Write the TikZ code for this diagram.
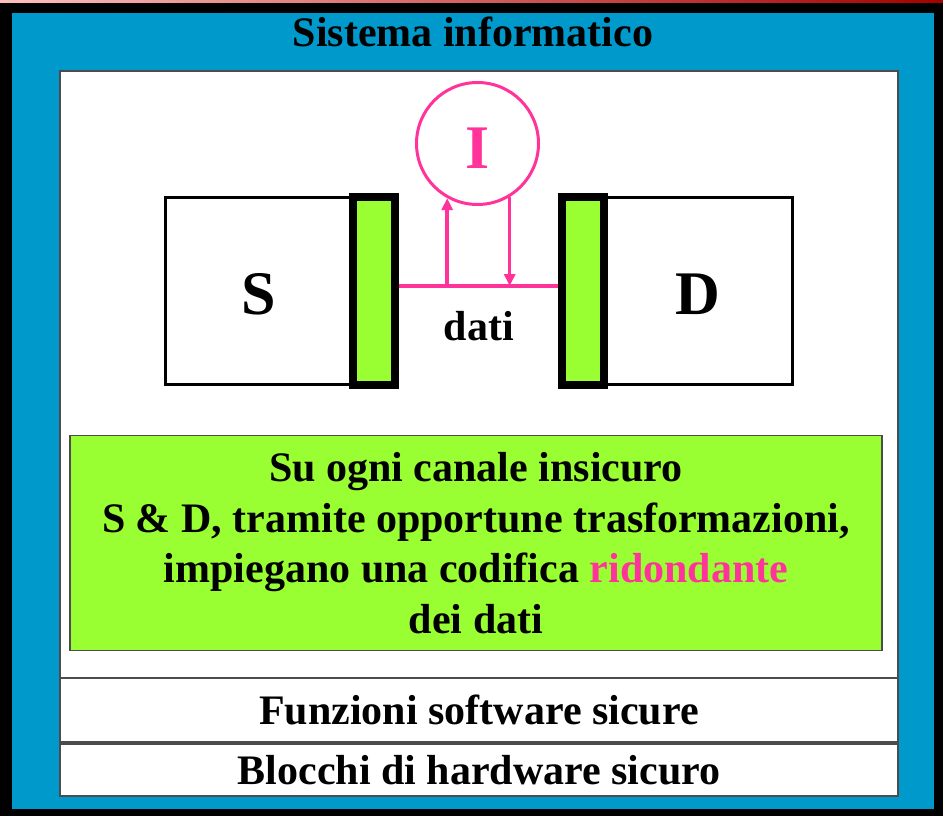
\documentclass[tikz,border=0pt]{standalone}
\usepackage{fontspec}
\setmainfont{Liberation Serif}
\usetikzlibrary{arrows.meta,positioning}
\definecolor{sysblue}{HTML}{0099CC}
\definecolor{chgreen}{HTML}{99FF33}
\definecolor{intpink}{HTML}{FF3399}

\begin{document}
\begin{tikzpicture}[x=1pt, y=-1pt, font=\bfseries\fontsize{42}{50.7}\selectfont,
     every node/.style={inner sep=0pt},
     big/.style={font=\bfseries\fontsize{62}{62}\selectfont, text height=49pt},
     party/.style={draw, big, line width=3pt, minimum width=188pt, minimum height=187pt},
     guard/.style={draw, line width=8pt, fill=chgreen, minimum width=41.5pt, minimum height=188pt},
     layer/.style={draw=black!70, line width=2pt, fill=white, minimum width=838pt},
     pinkline/.style={draw=intpink, line width=3.5pt},
     pinkarrow/.style={pinkline, -{Triangle[length=12pt,width=11pt]}},]

   \useasboundingbox (0,0) rectangle (943,816);
   % frame of the system
   \fill[black] (0,0) rectangle (943,816);
   \shade[left color=red!25!white, right color=red!65!black] (0,0) rectangle (943,2.5);
   \fill[sysblue] (12,13) rectangle (934,809);
   \draw[black!70, line width=2pt, fill=white] (60,71) rectangle (898,678);

   \node[anchor=base] (title) at (473,47) {Sistema informatico};

   \node[party] (S) at (259,290.5) {S};
   \node[party] (D) at (698,290.5) {D};
   \node[guard] (lbar) at (373.75,291) {};
   \node[guard] (rbar) at (583,291) {};

   \node[circle, big, draw=intpink, line width=3pt, minimum size=122pt, text=intpink] (I) at (477.5,143.5) {I};

   \coordinate (link) at (478,286);
   \draw[pinkline] (lbar.east |- link) -- (rbar.west |- link);
   \draw[pinkarrow] (I.241 |- link) -- (I.241);
   \draw[pinkarrow] (I.301) -- (I.301 |- link);
   \node[anchor=base] (dati) at (479,340) {dati};

   \node[draw=black!70, line width=1.5pt, fill=chgreen, minimum width=812pt, minimum height=215pt, align=center] (note) at (476,543)
     {Su ogni canale insicuro\\ S \& D, tramite opportune trasformazioni,\\ impiegano una codifica \textcolor{intpink}{ridondante}\\ dei dati};

   \node[layer, minimum height=64pt] (soft) at (479,710) {\raisebox{-2pt}{Funzioni software sicure}};
   \node[layer, minimum height=52pt, below=0pt of soft] (hard) {\raisebox{-2pt}{Blocchi di hardware sicuro}};
  \end{tikzpicture}
\end{document}
